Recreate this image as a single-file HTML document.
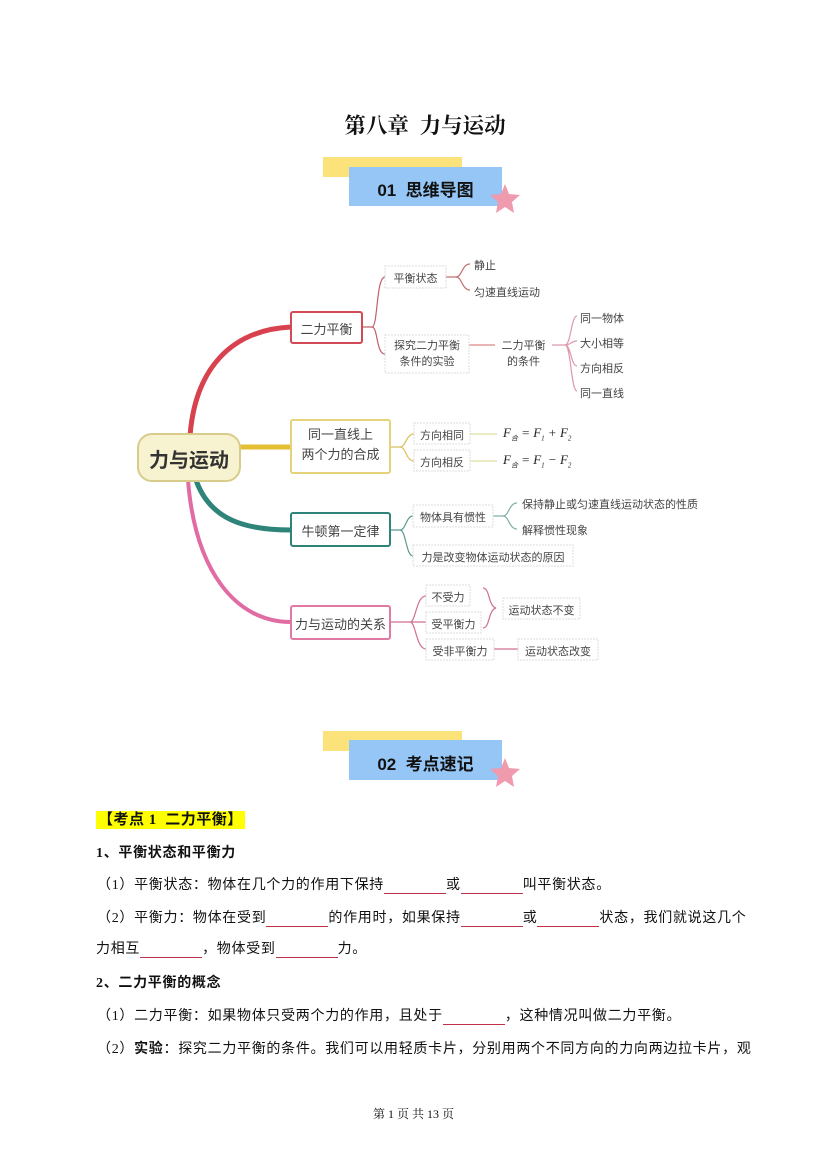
<!DOCTYPE html>
<html><head><meta charset="utf-8"><style>
body{margin:0;background:#fff;}
#p{position:relative;width:827px;height:1169px;overflow:hidden;font-family:"Liberation Serif","Noto Serif CJK SC",serif;color:#111;}
.a{position:absolute;white-space:nowrap;}
.t{font-size:14px;line-height:16px;letter-spacing:0.7px;font-family:"Liberation Serif","Noto Sans CJK SC",sans-serif;}
.b{display:inline-block;border-bottom:1px solid #c0304a;height:14px;vertical-align:bottom;}
.s{font-family:"Liberation Sans","Noto Sans CJK SC",sans-serif;}
</style></head><body><div id="p">
<div class="a" style="left:0;width:827px;top:109px;text-align:center;font-size:21.5px;font-weight:bold;padding-left:23px;box-sizing:border-box">第八章&nbsp; 力与运动</div>

<svg class="a" style="left:0;top:0" width="827" height="1169">
<rect x="323" y="157" width="139" height="20" fill="#fbe27a"/>
<rect x="349" y="167" width="153" height="39" fill="#95c6f5"/>
<polygon points="505,184 509,194 520,195 512,202 514,213 505,207 496,213 498,202 490,195 501,194" fill="#f09aae"/>
<rect x="323" y="731" width="139" height="20" fill="#fbe27a"/>
<rect x="349" y="740" width="153" height="40" fill="#95c6f5"/>
<polygon points="505,758 509,768 520,769 512,776 514,787 505,781 496,787 498,776 490,769 501,768" fill="#f09aae"/>

<path d="M190,436 C195,370 230,330 291,327" stroke="#d8424e" stroke-width="5" fill="none"/>
<path d="M240,447 L291,447" stroke="#e4bf34" stroke-width="5" fill="none"/>
<path d="M196,480 C210,520 245,530 291,530" stroke="#2e8479" stroke-width="5" fill="none"/>
<path d="M188,480 C195,570 235,622 291,622" stroke="#e06ca3" stroke-width="4" fill="none"/>

<g fill="none" stroke-width="1.2">
<path d="M362,327 H372 M372,327 C378,327 376,277 385,277 M372,327 C378,327 376,354 385,354" stroke="#c0606a"/>
<path d="M446,277 H456 C462,277 462,264 470,264 M456,277 C462,277 462,290 470,290" stroke="#c07070"/>
<path d="M469,345 H495" stroke="#d88"/>
<path d="M552,345 H565 C571,345 571,316 577,316 M565,345 C571,345 571,341 577,341 M565,345 C571,345 571,366 577,366 M565,345 C571,345 571,391 577,391" stroke="#d9a"/>
<path d="M390,447 H400 C406,447 406,434 414,434 M400,447 C406,447 406,461 414,461" stroke="#d8c060"/>
<path d="M470,434 H497 M470,461 H497" stroke="#e0e0a0"/>
<path d="M390,530 H400 C406,530 406,516 413,516 M400,530 C406,530 406,556 413,556" stroke="#5a9a90"/>
<path d="M493,516 H503 C509,516 509,503 517,503 M503,516 C509,516 509,529 517,529" stroke="#80b0a8"/>
<path d="M390,622 H410 C416,622 416,596 426,596 M410,622 C416,622 416,649 426,649 M410,622 H426" stroke="#d07090"/>
<path d="M483,588 C490,588 488,606 496,608 C488,610 490,628 483,628" stroke="#d07090"/>
<path d="M494,649 H518" stroke="#d07090"/>
</g>

<rect x="138" y="434" width="102" height="47" rx="14" fill="#f7f2cf" stroke="#d8cc8a" stroke-width="2"/>
<rect x="291" y="312" width="71" height="31" rx="2" fill="#fff" stroke="#d24a55" stroke-width="2"/>
<rect x="291" y="420" width="99" height="53" rx="2" fill="#fff" stroke="#e5d27a" stroke-width="2"/>
<rect x="291" y="513" width="99" height="33" rx="2" fill="#fff" stroke="#2e8479" stroke-width="2"/>
<rect x="291" y="606" width="99" height="33" rx="2" fill="#fff" stroke="#e07aa5" stroke-width="2"/>
<g fill="#fff" stroke="#ddd" stroke-width="1" stroke-dasharray="2,1">
<rect x="385" y="266" width="61" height="22"/>
<rect x="385" y="335" width="84" height="38"/>
<rect x="414" y="423" width="56" height="21"/>
<rect x="414" y="450" width="56" height="21"/>
<rect x="413" y="505" width="80" height="22"/>
<rect x="413" y="545" width="160" height="21"/>
<rect x="426" y="585" width="44" height="21"/>
<rect x="426" y="612" width="55" height="21"/>
<rect x="426" y="639" width="68" height="21"/>
<rect x="503" y="598" width="77" height="21"/>
<rect x="518" y="639" width="80" height="21"/>
</g>
</svg>

<div class="a s" style="left:349px;top:176px;width:153px;text-align:center;font-size:17px;font-weight:bold">01&nbsp; 思维导图</div>
<div class="a s" style="left:349px;top:750px;width:153px;text-align:center;font-size:17px;font-weight:bold">02&nbsp; 考点速记</div>

<div class="s" style="font-size:11px;color:#444">
<div class="a" style="left:138px;top:444px;width:102px;text-align:center;font-size:20px;font-weight:bold;color:#333">力与运动</div>
<div class="a" style="left:291px;top:319px;width:71px;text-align:center;font-size:13px">二力平衡</div>
<div class="a" style="left:385px;top:270px;width:61px;text-align:center">平衡状态</div>
<div class="a" style="left:474px;top:257px">静止</div>
<div class="a" style="left:474px;top:284px">匀速直线运动</div>
<div class="a" style="left:385px;top:338px;width:84px;text-align:center;line-height:16px">探究二力平衡<br>条件的实验</div>
<div class="a" style="left:495px;top:338px;width:57px;text-align:center;line-height:16px">二力平衡<br>的条件</div>
<div class="a" style="left:580px;top:310px">同一物体</div>
<div class="a" style="left:580px;top:335px">大小相等</div>
<div class="a" style="left:580px;top:360px">方向相反</div>
<div class="a" style="left:580px;top:385px">同一直线</div>
<div class="a" style="left:291px;top:425px;width:99px;text-align:center;font-size:13px;line-height:20px">同一直线上<br>两个力的合成</div>
<div class="a" style="left:414px;top:427px;width:56px;text-align:center">方向相同</div>
<div class="a" style="left:414px;top:454px;width:56px;text-align:center">方向相反</div>
<div class="a" style="left:503px;top:425px;font-family:'Liberation Serif',serif;font-style:italic;font-size:13px;color:#222">F<sub style="font-size:7px">合</sub> = F<sub style="font-size:7px">1</sub> + F<sub style="font-size:7px">2</sub></div>
<div class="a" style="left:503px;top:452px;font-family:'Liberation Serif',serif;font-style:italic;font-size:13px;color:#222">F<sub style="font-size:7px">合</sub> = F<sub style="font-size:7px">1</sub> − F<sub style="font-size:7px">2</sub></div>
<div class="a" style="left:291px;top:521px;width:99px;text-align:center;font-size:13px">牛顿第一定律</div>
<div class="a" style="left:413px;top:509px;width:80px;text-align:center">物体具有惯性</div>
<div class="a" style="left:522px;top:496px">保持静止或匀速直线运动状态的性质</div>
<div class="a" style="left:522px;top:522px">解释惯性现象</div>
<div class="a" style="left:413px;top:549px;width:160px;text-align:center">力是改变物体运动状态的原因</div>
<div class="a" style="left:291px;top:614px;width:99px;text-align:center;font-size:13px">力与运动的关系</div>
<div class="a" style="left:426px;top:589px;width:44px;text-align:center">不受力</div>
<div class="a" style="left:426px;top:616px;width:55px;text-align:center">受平衡力</div>
<div class="a" style="left:426px;top:643px;width:68px;text-align:center">受非平衡力</div>
<div class="a" style="left:503px;top:602px;width:77px;text-align:center">运动状态不变</div>
<div class="a" style="left:518px;top:643px;width:80px;text-align:center">运动状态改变</div>
</div>

<div class="a t" style="left:96px;top:811px;background:#ffff00;font-weight:bold;padding:1px 2px;font-size:15px;letter-spacing:0.5px">【考点 1&nbsp; 二力平衡】</div>
<div class="a t" style="left:96px;top:846px;font-weight:bold">1、平衡状态和平衡力</div>
<div class="a t" style="left:97px;top:878px">（1）平衡状态：物体在几个力的作用下保持<span class="b" style="width:62px"></span>或<span class="b" style="width:62px"></span>叫平衡状态。</div>
<div class="a t" style="left:97px;top:911px">（2）平衡力：物体在受到<span class="b" style="width:62px"></span>的作用时，如果保持<span class="b" style="width:62px"></span>或<span class="b" style="width:62px"></span>状态，我们就说这几个</div>
<div class="a t" style="left:96px;top:942px">力相互<span class="b" style="width:62px"></span>，物体受到<span class="b" style="width:62px"></span>力。</div>
<div class="a t" style="left:96px;top:976px;font-weight:bold">2、二力平衡的概念</div>
<div class="a t" style="left:97px;top:1009px">（1）二力平衡：如果物体只受两个力的作用，且处于<span class="b" style="width:62px"></span>，这种情况叫做二力平衡。</div>
<div class="a t" style="left:97px;top:1042px">（2）<b>实验</b>：探究二力平衡的条件。我们可以用轻质卡片，分别用两个不同方向的力向两边拉卡片，观</div>

<div class="a" style="left:0;width:827px;top:1105px;text-align:center;font-size:12px">第 1 页 共 13 页</div>
</div></body></html>
